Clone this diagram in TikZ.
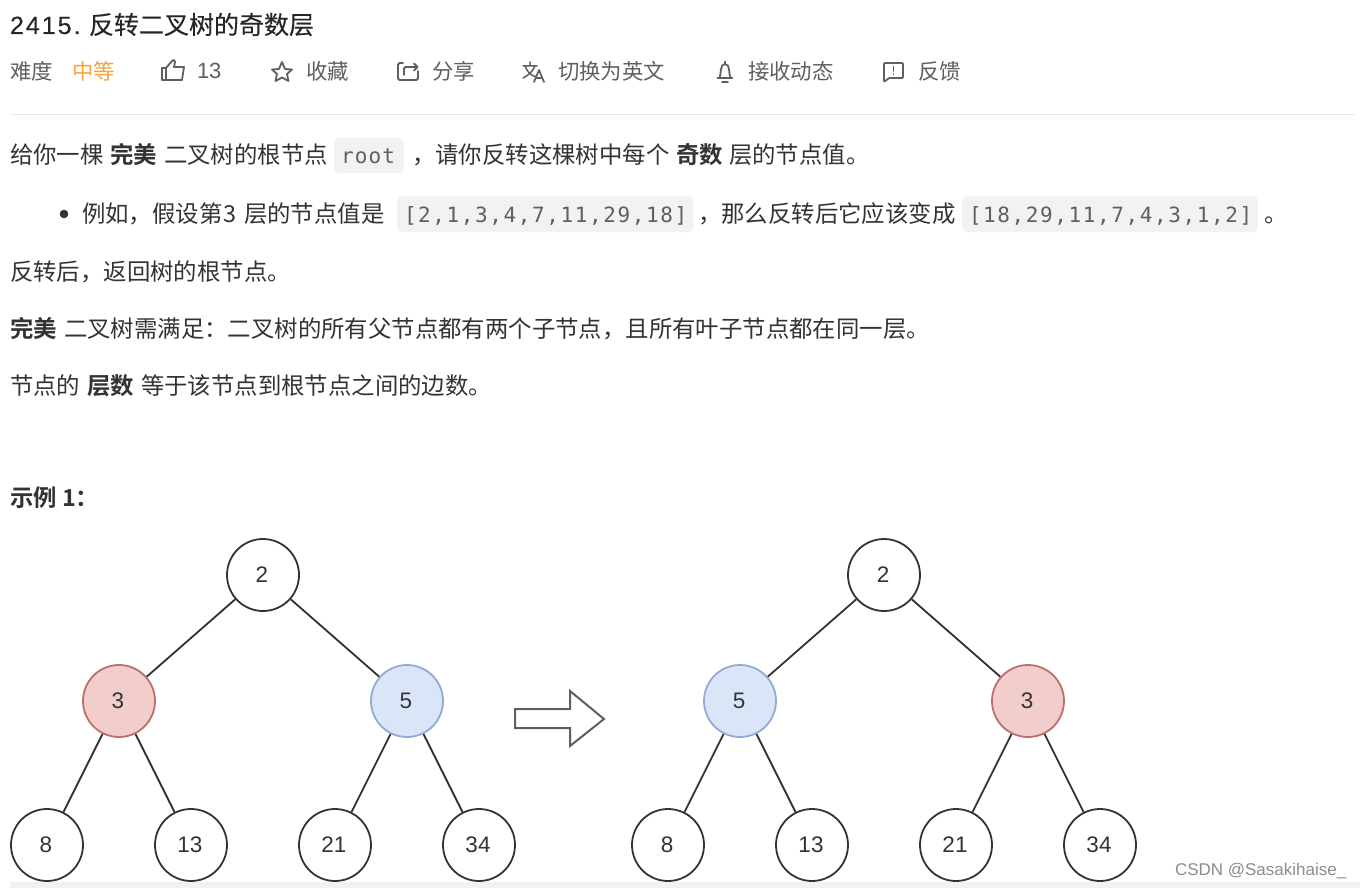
\documentclass[tikz,border=0pt]{standalone}
\usepackage{fontspec}
\setmainfont{Liberation Sans}
\newfontfamily\cjk{Noto Sans CJK SC}
\newfontfamily\cjkm[FakeBold=0.25]{Noto Sans CJK SC}
\newfontfamily\cjkb{Noto Sans CJK SC Bold}
\newfontfamily\mono{DejaVu Sans Mono}
\newfontfamily\codeA[LetterSpace=7.6]{DejaVu Sans Mono}
\newfontfamily\codeB[LetterSpace=5.5]{DejaVu Sans Mono}
\newfontfamily\titlelatfont[LetterSpace=8,FakeBold=0.25]{Liberation Sans}
\definecolor{ink}{HTML}{333333}
\definecolor{soft}{HTML}{5F5F5F}
\definecolor{orangetxt}{HTML}{F5A33F}
\definecolor{codebg}{HTML}{F2F2F4}
\definecolor{ruleline}{HTML}{E8E8E8}
\definecolor{redfill}{HTML}{F1CECC}
\definecolor{redline}{HTML}{BC6F6B}
\definecolor{bluefill}{HTML}{DAE6F8}
\definecolor{blueline}{HTML}{93ABD4}
\definecolor{treeline}{HTML}{333333}
\tikzset{
 txt/.style={anchor=base west,inner sep=0pt,outer sep=0pt,text=ink,font=\fontsize{21}{21}\selectfont\cjk},
 title/.style={txt,text=black!85,font=\fontsize{25}{25}\selectfont\cjkm},
 titlelat/.style={txt,text=black!85,font=\fontsize{25}{25}\selectfont\titlelatfont},
 bar/.style={txt,text=soft,font=\fontsize{21.4}{21.4}\selectfont\cjk},
 barnum/.style={txt,text=soft,font=\fontsize{22}{22}\selectfont},
 body/.style={txt,font=\fontsize{23.4}{23.4}\selectfont\cjk},
 bold/.style={txt,font=\fontsize{23.4}{23.4}\selectfont\cjkb},
 code/.style={txt,text=soft,font=\fontsize{21}{21}\selectfont\codeA},
 coderoot/.style={txt,text=soft,font=\fontsize{21}{21}\selectfont\codeB},
 chip/.style={fill=codebg,rounded corners=5pt,draw=none},
 tnode/.style={circle,draw=treeline,line width=1.8pt,fill=white,minimum size=72pt,inner sep=0pt,text=ink,font=\fontsize{22.5}{22.5}\selectfont,execute at begin node={\kern-2pt}},
 rednode/.style={tnode,fill=redfill,draw=redline},
 bluenode/.style={tnode,fill=bluefill,draw=blueline},
 edge/.style={draw=treeline,line width=1.8pt},
 icon/.style={draw=soft,line width=1.8pt,line join=round,line cap=round},
}
\begin{document}
\begin{tikzpicture}[x=1pt,y=-1pt]
\useasboundingbox[fill=white] (0,0) rectangle (1360,888);
% header
\node[titlelat] (t1) at (10,34) {2415.};
\node[title] (t2) at (89,34) {反转二叉树的奇数层};
\node[bar] (b1) at (10,80) {难度};
\node[bar,text=orangetxt] (b2) at (72,80) {中等};
\node[barnum] (b3) at (197,79) {13};
\node[bar] (b4) at (306,80) {收藏};
\node[bar] (b5) at (432,80) {分享};
\node[bar] (b6) at (558,80) {切换为英文};
\node[bar] (b7) at (748,80) {接收动态};
\node[bar] (b8) at (918,80) {反馈};
% icons
\draw[icon] (162,68) -- (166,68) -- (166,80) -- (162,80) -- cycle;
\draw[icon] (166,68) -- (172,61) -- (174,60) -- (175,62) -- (174,67) -- (184,67) -- (182,80) -- (166,80);
\draw[icon] (282,62) -- (285,69) -- (292,69.5) -- (287,74) -- (288.5,81) -- (282,77.5) -- (275.5,81) -- (277,74) -- (272,69.5) -- (279,69) -- cycle;
\draw[icon,rounded corners=1.5pt] (403,63) -- (398,63) -- (398,80) -- (418,80) -- (418,71);
\draw[icon,rounded corners=1.5pt] (404,75) -- (404,67) -- (417,67);
\draw[icon] (414,63.5) -- (417.5,67) -- (414,70.5);
% translate icon
\draw[icon,line width=1.5pt] (523,66) -- (537,66) (530,62) -- (530,66) (525,66) .. controls (527,71) and (530,75) .. (536,77) (535,66) .. controls (533,71) and (529,75) .. (523,78);
\draw[icon,line width=1.7pt] (534,82) -- (539,70) -- (544,82) (536,78) -- (542,78);
% bell
\draw[icon] (725,61.5) -- (725,64) (719.5,78) .. controls (721.5,74) and (719.5,64) .. (725,64) .. controls (730.5,64) and (728.5,74) .. (730.5,78) (717.5,78) -- (732.5,78);
\draw[icon] (722,82) -- (728,82);
% comment
\draw[icon,rounded corners=1pt] (884,63) -- (903,63) -- (903,78) -- (889,78) -- (884,82) -- cycle;
\draw[icon] (893.5,66.5) -- (893.5,71) (893.5,74) -- (893.5,74.3);
\draw[ruleline,line width=1pt] (10,114.5) -- (1355,114.5);
% line 1
\fill[chip] (334,138) rectangle (404,173);
\node[body] (l1a) at (10,164) {给你一棵};
\node[bold] (l1b) at (110,164) {完美};
\node[body] (l1c) at (164,164) {二叉树的根节点};
\node[coderoot] (l1d) at (341,164) {root};
\node[body] (l1e) at (412,164) {，请你反转这棵树中每个};
\node[bold] (l1f) at (676,164) {奇数};
\node[body] (l1g) at (729,164) {层的节点值。};
% line 2
\fill[ink] (64,214) circle (4.3pt);
\fill[chip] (397,196) rectangle (693,232);
\fill[chip] (962,196) rectangle (1258,232);
\node[body] (l2a) at (82,222) {例如，假设第};
\node[body] (l2b) at (223,222) {3};
\node[body] (l2c) at (244,222) {层的节点值是};
\node[code] (l2d) at (404,222) {[2,1,3,4,7,11,29,18]};
\node[body] (l2e) at (698,222) {，那么反转后它应该变成};
\node[code] (l2f) at (969,222) {[18,29,11,7,4,3,1,2]};
\node[body] (l2g) at (1264,222) {。};
% others
\node[body] (l3) at (10,280) {反转后，返回树的根节点。};
\node[bold] (l4a) at (10,337) {完美};
\node[body] (l4b) at (64,337) {二叉树需满足：二叉树的所有父节点都有两个子节点，且所有叶子节点都在同一层。};
\node[body] (l5a) at (10,394) {节点的};
\node[bold] (l5b) at (87,394) {层数};
\node[body] (l5c) at (141,394) {等于该节点到根节点之间的边数。};
\node[bold] (ex) at (10,506) {示例 1：};
% tree 1
\node[tnode] (a) at (263,575) {2};
\node[rednode] (b) at (119,701) {3};
\node[bluenode] (c) at (407,701) {5};
\node[tnode] (d) at (47,845) {8};
\node[tnode] (e) at (191,845) {13};
\node[tnode] (f) at (335,845) {21};
\node[tnode] (g) at (479,845) {34};
\draw[edge] (a) -- (b); \draw[edge] (a) -- (c);
\draw[edge] (b) -- (d); \draw[edge] (b) -- (e);
\draw[edge] (c) -- (f); \draw[edge] (c) -- (g);
% tree 2
\node[tnode] (a2) at (884,575) {2};
\node[bluenode] (b2n) at (740,701) {5};
\node[rednode] (c2) at (1028,701) {3};
\node[tnode] (d2) at (668,845) {8};
\node[tnode] (e2) at (812,845) {13};
\node[tnode] (f2) at (956,845) {21};
\node[tnode] (g2) at (1100,845) {34};
\draw[edge] (a2) -- (b2n); \draw[edge] (a2) -- (c2);
\draw[edge] (b2n) -- (d2); \draw[edge] (b2n) -- (e2);
\draw[edge] (c2) -- (f2); \draw[edge] (c2) -- (g2);
% arrow
\draw[draw=soft,line width=2pt,line join=miter,fill=white] (515,709) -- (570,709) -- (570,691) -- (604,719) -- (570,746) -- (570,728) -- (515,728) -- cycle;
% bottom strip and watermark
\fill[codebg] (10,882) rectangle (1360,888);
\node[txt,text=black!45,font=\fontsize{17}{17}\selectfont] (wm) at (1175,875) {CSDN @Sasakihaise\_};
\end{tikzpicture}
\end{document}
